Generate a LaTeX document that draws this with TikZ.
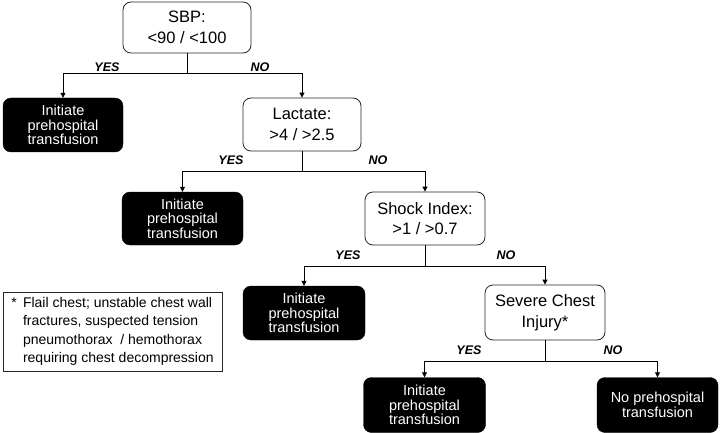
\documentclass[tikz,border=0pt]{standalone}
\usepackage{fontspec}
\setmainfont{Liberation Sans}
\usetikzlibrary{arrows.meta}
\begin{document}
\begin{tikzpicture}[x=1pt,y=-1pt,
  decbox/.style={draw=black!85, line width=0.8pt, fill=white, rounded corners=8pt, align=center,
    font=\fontsize{16.5}{20.5}\selectfont, inner sep=0pt},
  outbox/.style={draw=black, fill=black, text=white, rounded corners=8pt, align=center,
    font=\fontsize{14.5}{14.5}\selectfont, inner sep=0pt},
  lab/.style={font=\bfseries\itshape\fontsize{12.5}{13}\selectfont},
  conn/.style={line width=0.8pt},
  arr/.style={line width=0.8pt, -{Triangle[width=5pt,length=5pt]}}
]
\useasboundingbox (0,0) rectangle (720,433);
% decision nodes
\node[decbox, minimum width=128pt, minimum height=51pt] (sbp) at (187,27.5) {SBP:\\<90 / <100};
\node[decbox, minimum width=118pt, minimum height=53pt] (lac) at (302,124.5) {Lactate:\\>4 / >2.5};
\node[decbox, minimum width=120pt, minimum height=53pt] (shock) at (425,218.5) {Shock Index:\\>1 / >0.7};
\node[decbox, minimum width=120pt, minimum height=55pt] (chest) at (545,312.5) {Severe Chest\\Injury*};
% outcome nodes
\node[outbox, minimum width=120pt, minimum height=54pt] (t1) at (63,125) {Initiate\\prehospital\\transfusion};
\node[outbox, minimum width=121pt, minimum height=53pt] (t2) at (182.5,218.5) {Initiate\\prehospital\\transfusion};
\node[outbox, minimum width=122pt, minimum height=54pt] (t3) at (304,313) {Initiate\\prehospital\\transfusion};
\node[outbox, minimum width=122pt, minimum height=55pt] (t4) at (424.5,405) {Initiate\\prehospital\\transfusion};
\node[outbox, minimum width=121pt, minimum height=55pt] (t5) at (657.5,405) {No prehospital\\transfusion};
% note
\node[draw=black!85, line width=0.7pt, minimum width=219pt, minimum height=79pt, inner sep=0pt,
  font=\fontsize{14}{18.3}\selectfont, align=left] (note) at (112.5,331.5)
  {*\hspace{0.45em}Flail chest; unstable chest wall\\
   \phantom{*}\hspace{0.45em}fractures, suspected tension\\
   \phantom{*}\hspace{0.45em}pneumothorax\ \ / hemothorax\\
   \phantom{*}\hspace{0.45em}requiring chest decompression};
% connectors
\coordinate (b1) at (sbp.south |- 0,73);
\draw[conn] (sbp.south) -- (b1);
\draw[arr] (b1) -| (t1.north);
\draw[arr] (b1) -| (lac.north);
\node[lab] (y1) at (107,67) {YES};
\node[lab] (n1) at (260,67) {NO};

\coordinate (b2) at (lac.south |- 0,171);
\draw[conn] (lac.south) -- (b2);
\draw[arr] (b2) -| (t2.north);
\draw[arr] (b2) -| (shock.north);
\node[lab] (y2) at (231,160) {YES};
\node[lab] (n2) at (378,160) {NO};

\coordinate (b3) at (shock.south |- 0,266);
\draw[conn] (shock.south) -- (b3);
\draw[arr] (b3) -| (t3.north);
\draw[arr] (b3) -| (chest.north);
\node[lab] (y3) at (348,255) {YES};
\node[lab] (n3) at (506,255) {NO};

\coordinate (b4) at (chest.south |- 0,361);
\draw[conn] (chest.south) -- (b4);
\draw[arr] (b4) -| (t4.north);
\draw[arr] (b4) -| (t5.north);
\node[lab] (y4) at (469,350) {YES};
\node[lab] (n4) at (613,350) {NO};
\end{tikzpicture}
\end{document}
